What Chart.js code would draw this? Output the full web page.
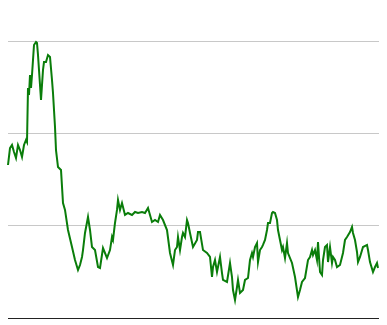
<!DOCTYPE html>
<html>
<head>
<meta charset="utf-8">
<script src="https://cdn.jsdelivr.net/npm/chart.js@4/dist/chart.umd.min.js"></script>
<style>
html,body{margin:0;padding:0;background:#fff;}
#wrap{width:387px;height:325px;position:relative;}
</style>
</head>
<body>
<div id="wrap"><canvas id="c" width="387" height="325"></canvas></div>
<script>
const days = [0,2,4,6,8,10,12,14,16,18,19,20,21,22,23,24,25,26,28,29,30,31,32,33,34,35,36,38,40,42,44,45,47,48,50,53,55,57,60,64,67,70,72,74,75,77,80,82,84,87,90,92,95,99,102,104,105,107,109,110,112,114,117,120,124,127,130,134,137,140,144,147,150,152,155,159,162,165,167,169,170,172,174,175,177,179,180,182,185,189,190,192,195,199,202,204,205,207,209,212,214,215,219,222,224,225,227,229,230,232,235,237,240,242,244,245,247,249,250,252,254,255,257,259,260,262,264,265,267,269,270,272,274,275,277,279,280,284,287,290,292,294,297,300,302,304,305,307,309,310,312,314,315,317,319,320,322,324,325,327,329,332,335,337,339,342,344,345,347,349,350,352,355,359,360,362,365,367,369,370];
const values = [165.7,184.1,187.4,179.8,173.3,187.4,181.9,174.4,187.4,192.8,190.6,249.1,241.5,263.2,249.1,263.2,279.4,295.7,298.9,297.8,284.8,268.6,252.3,236.1,252.3,268.6,277.2,277.2,284.8,282.7,257.8,243.7,206.9,181.9,163.5,160.3,124.5,117.0,95.3,76.9,62.8,52.0,57.4,66.1,73.6,92.1,109.4,95.3,76.9,73.6,55.2,54.2,75.8,65.0,73.6,87.7,84.5,102.9,117.0,127.8,117.0,124.5,111.6,113.7,111.6,114.8,113.7,114.8,113.7,119.1,104.0,106.1,104.0,111.6,106.1,95.3,70.4,57.4,73.6,76.9,87.7,73.6,87.7,92.1,87.7,106.1,102.9,92.1,76.9,84.5,93.1,93.1,73.6,70.4,66.1,44.4,55.2,62.8,49.8,66.1,48.7,41.2,39.0,59.6,44.4,30.3,19.5,33.6,41.2,27.1,30.3,41.2,43.3,62.8,70.4,66.1,76.9,81.2,60.6,73.6,76.9,79.1,84.5,95.3,102.9,102.9,113.7,114.8,113.7,106.1,95.3,84.5,73.6,76.9,65.0,81.2,70.4,59.6,44.4,22.7,30.3,39.0,43.3,62.8,66.1,73.6,68.2,73.6,62.8,82.3,49.8,46.6,62.8,76.9,79.1,60.6,76.9,59.6,66.1,62.8,55.2,57.4,70.4,84.5,87.7,93.1,98.6,92.1,84.5,71.5,60.6,66.1,76.9,79.1,73.6,60.6,49.8,55.2,59.6,54.2];
const yTicks = [0,100,200,300];

const points = days.map((d,i)=>({x:d,y:values[i]}));

new Chart(document.getElementById('c'), {
  type: 'line',
  data: {
    datasets: [{
      data: points,
      borderColor: '#0a7d0a',
      borderWidth: 2,
      pointRadius: 0,
      tension: 0,
      fill: false,
      clip: false
    }]
  },
  options: {
    responsive: false,
    animation: false,
    layout: { padding: { left: 8, right: 8, top: 41, bottom: 7 } },
    plugins: { legend: { display: false }, tooltip: { enabled: false } },
    scales: {
      x: { type: 'linear', display: false, min: 0, max: 371 },
      y: {
        min: 0, max: 300,
        afterBuildTicks: (s) => { s.ticks = yTicks.map(v => ({value: v})); },
        ticks: { display: false },
        border: { display: false },
        grid: {
          drawTicks: false,
          color: (ctx) => ctx.tick && ctx.tick.value === 0 ? '#222222' : '#c8c8c8',
          lineWidth: 1
        }
      }
    }
  }
});
</script>
</body>
</html>
